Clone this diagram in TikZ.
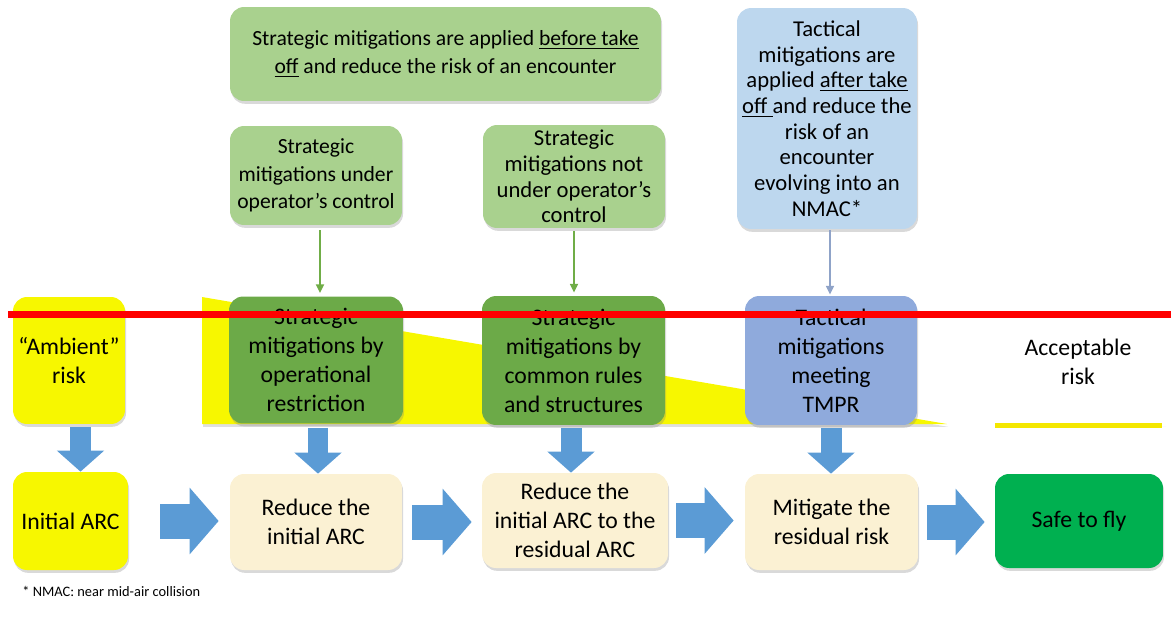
\documentclass[tikz,border=0pt]{standalone}
\usepackage{fontspec}
\setmainfont{Carlito}
\usepackage{xcolor}
\usetikzlibrary{arrows.meta,shadows}

\definecolor{lgreen}{HTML}{A9D18E}
\definecolor{dgreen}{HTML}{6CAA48}
\definecolor{lblue}{HTML}{BDD7EE}
\definecolor{mblue}{HTML}{8FAADC}
\definecolor{ryellow}{HTML}{F7F700}
\definecolor{beige}{HTML}{FBF1D3}
\definecolor{safegreen}{HTML}{00B050}
\definecolor{arrblue}{HTML}{5B9BD5}
\definecolor{thingreen}{HTML}{70AD47}
\definecolor{thinblue}{HTML}{8FA3C8}

\begin{document}
\begin{tikzpicture}[x=0.02cm, y=-0.02cm,
  box/.style={rounded corners=0.28cm, align=center, inner sep=1pt,
    font=\fontsize{13.5}{16.5}\selectfont,
    drop shadow={shadow xshift=0.6pt, shadow yshift=-1.6pt, opacity=0.3}},
  small/.style={font=\fontsize{12.3}{15.6}\selectfont},
  tight/.style={font=\fontsize{12.9}{14.6}\selectfont},
  thinarr/.style={-{Triangle[length=5pt,width=4.5pt]}, line width=1.1pt},
  downarr/.style={arrblue, line width=0.42cm, -{Triangle[width=0.92cm,length=0.42cm]}},
  sidearr/.style={arrblue, line width=0.7cm, -{Triangle[width=1.3cm,length=0.58cm]}},
  note/.style={font=\fontsize{8.2}{10}\selectfont, anchor=west, inner sep=0pt}
]
\useasboundingbox (0,0) rectangle (1171,630);

% top row: what the mitigations are
\node[box, small, fill=lgreen, minimum width=8.62cm, minimum height=1.88cm] (before) at (445.5,54)
  {Strategic mitigations are applied \underline{before take}\\\underline{off} and reduce the risk of an encounter};
\node[box, small, fill=lgreen, minimum width=3.44cm, minimum height=1.98cm] (inctrl) at (316,175.5)
  {Strategic\\mitigations under\\operator’s control};
\node[box, tight, fill=lgreen, minimum width=3.64cm, minimum height=2.06cm] (outctrl) at (574,176.5)
  {Strategic\\mitigations not\\under operator’s\\control};
\node[box, tight, fill=lblue, minimum width=3.6cm, minimum height=4.42cm] (tactical) at (827,118.5)
  {Tactical\\mitigations are\\applied \underline{after take}\\\underline{off }and reduce the\\risk of an\\encounter\\evolving into an\\NMAC*};

% risk wedge behind the middle row
\fill[ryellow, drop shadow={shadow xshift=0.6pt, shadow yshift=-1.6pt, opacity=0.25}]
  (202,297) -- (202,424) -- (947,424) -- cycle;

% middle row
\node[box, fill=ryellow, minimum width=2.24cm, minimum height=2.54cm] (ambient) at (69,360.5)
  {“Ambient”\\risk};
\node[box, fill=dgreen, minimum width=3.48cm, minimum height=2.54cm] (oprest) at (316,360)
  {Strategic\\mitigations by\\operational\\restriction};
\node[box, fill=dgreen, minimum width=3.66cm, minimum height=2.58cm] (common) at (573.5,360.5)
  {Strategic\\mitigations by\\common rules\\and structures};
\node[box, fill=mblue, minimum width=3.44cm, minimum height=2.58cm] (tmpr) at (831,360.5)
  {Tactical\\mitigations\\meeting\\TMPR};
\node[align=center, font=\fontsize{13.5}{16.5}\selectfont] (accept) at (1078,362) {Acceptable\\risk};
\coordinate (accL) at (995,425);
\coordinate (accR) at (1162,425);
\draw[line width=0.1cm, yellow!90!olive, drop shadow={shadow yshift=-1pt, opacity=0.25}] (accL) -- (accR);

% bottom row
\node[box, fill=ryellow, minimum width=2.3cm, minimum height=1.96cm] (initarc) at (70.5,521) {Initial ARC};
\node[box, fill=beige, minimum width=3.44cm, minimum height=1.92cm] (reduce1) at (316,522) {Reduce the\\initial ARC};
\node[box, fill=beige, minimum width=3.72cm, minimum height=1.9cm] (reduce2) at (575,520.5)
  {Reduce the\\initial ARC to the\\residual ARC};
\node[box, fill=beige, minimum width=3.46cm, minimum height=1.92cm] (mitigate) at (831.5,522)
  {Mitigate the\\residual risk};
\node[box, fill=safegreen, minimum width=3.36cm, minimum height=1.88cm] (safe) at (1079,521) {Safe to fly};

\node[note] (fn) at (22,591) {* NMAC: near mid-air collision};

% thin arrows
\draw[thinarr, thingreen, shorten <=0.1cm, shorten >=0.06cm] ([xshift=0.08cm]inctrl.south) -- ([xshift=0.08cm]inctrl.south |- oprest.north);
\draw[thinarr, thingreen, shorten <=0.06cm, shorten >=0.06cm] (outctrl.south) -- (outctrl.south |- common.north);
\draw[thinarr, thinblue, shorten <=0.02cm, shorten >=0.02cm] ([xshift=0.06cm]tactical.south) -- ([xshift=0.06cm]tactical.south |- tmpr.north);

% block arrows down
\draw[downarr, shorten <=0.06cm] ([xshift=0.23cm]ambient.south) -- ([xshift=0.23cm]ambient.south |- initarc.north);
\draw[downarr, shorten <=0.08cm] ([xshift=0.04cm]oprest.south) -- ([xshift=0.04cm]oprest.south |- reduce1.north);
\draw[downarr, shorten <=0.06cm] ([xshift=-0.05cm]common.south) -- ([xshift=-0.05cm]common.south |- reduce2.north);
\draw[downarr, shorten <=0.06cm] (tmpr.south) -- (tmpr.south |- mitigate.north);

% block arrows along the flow
\draw[sidearr, shorten <=0.64cm, shorten >=0.22cm] (initarc.east) -- (initarc.east -| reduce1.west);
\draw[sidearr, shorten <=0.2cm, shorten >=0.2cm] (reduce1.east) -- (reduce1.east -| reduce2.west);
\draw[sidearr, shorten <=0.16cm, shorten >=0.22cm] (reduce2.east) -- (reduce2.east -| mitigate.west);
\draw[sidearr, shorten <=0.18cm, shorten >=0.2cm] (mitigate.east) -- (mitigate.east -| safe.west);

% red line across the middle row
\coordinate (redL) at (8,314.5);
\coordinate (redR) at (1171,314.5);
\draw[red, line width=0.14cm] (redL) -- (redR);
\end{tikzpicture}
\end{document}
